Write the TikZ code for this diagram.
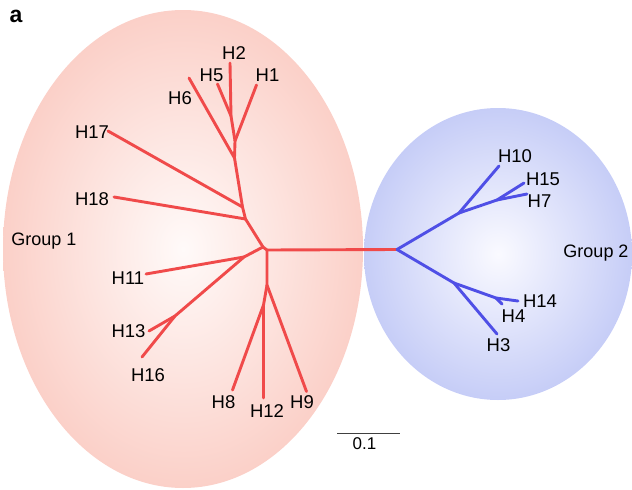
\documentclass[tikz,border=0pt]{standalone}
\usepackage{fontspec}
\setmainfont{Liberation Sans}
\begin{document}
\begin{tikzpicture}[x=1pt,y=-1pt,
  redbr/.style={draw=treered,line width=2.9pt,line join=round,line cap=round},
  bluebr/.style={draw=treeblue,line width=2.9pt,line join=round,line cap=round},
  leaf/.style={font=\fontsize{18.5}{22}\selectfont,inner sep=0pt},
  grp/.style={font=\fontsize{18}{21}\selectfont,inner sep=0pt}]
\definecolor{treered}{HTML}{F04A4A}
\definecolor{treeblue}{HTML}{4F4FE6}
\definecolor{redout}{HTML}{FBD0C8}
\definecolor{redin}{HTML}{FFFAF9}
\definecolor{blueout}{HTML}{C6CDF7}
\definecolor{bluein}{HTML}{FAFAFF}
\useasboundingbox (0,0) rectangle (632,490);

% group clouds
\shade[inner color=redin,outer color=redout] (183,249) ellipse [x radius=180,y radius=239];
\shade[inner color=bluein,outer color=blueout] (498,254) ellipse [x radius=134,y radius=146];

% panel letter
\node[font=\fontsize{23}{26}\selectfont\bfseries,inner sep=0pt] (panel) at (16,16.5) {a};

% internal points of group 1
\coordinate (a0) at (263,247);
\coordinate (a1) at (267,250);
\coordinate (t18) at (245.5,219);
\coordinate (t17) at (242.5,207);
\coordinate (t6) at (234.5,158);
\coordinate (t1) at (235,141);
\coordinate (t25) at (231,116);
\coordinate (t11) at (244,257);
\coordinate (t13) at (175,316);
\coordinate (d1) at (267,285);
\coordinate (d2) at (263.5,305);
% tips of group 1
\coordinate (h2) at (230,63);
\coordinate (h5) at (217.5,84);
\coordinate (h1) at (256.5,85);
\coordinate (h6) at (189,78);
\coordinate (h17) at (108,131);
\coordinate (h18) at (114,197);
\coordinate (h11) at (146,274);
\coordinate (h13) at (149,331);
\coordinate (h16) at (142,357);
\coordinate (h9) at (306.5,391.5);
\coordinate (h12) at (263.5,398);
\coordinate (h8) at (232.5,390);

% internal points of group 2
\coordinate (b0) at (397,249.5);
\coordinate (b1) at (459,213);
\coordinate (b2) at (497,200);
\coordinate (b3) at (454,283);
\coordinate (b4) at (496,298);
% tips of group 2
\coordinate (h10) at (499,166);
\coordinate (h15) at (524,183);
\coordinate (h7) at (527,194);
\coordinate (h3) at (497,334);
\coordinate (h14) at (518,301);
\coordinate (h4) at (502,304);

% group 1 branches
\draw[redbr] (b0) -- (a1) -- (a0) -- (t18) -- (t17) -- (t6) -- (t1) -- (t25) -- (h2);
\draw[redbr] (t25) -- (h5);
\draw[redbr] (t1) -- (h1);
\draw[redbr] (t6) -- (h6);
\draw[redbr] (t17) -- (h17);
\draw[redbr] (t18) -- (h18);
\draw[redbr] (a0) -- (t11) -- (t13) -- (h16);
\draw[redbr] (t11) -- (h11);
\draw[redbr] (t13) -- (h13);
\draw[redbr] (a1) -- (d1) -- (h9);
\draw[redbr] (d1) -- (d2) -- (h12);
\draw[redbr] (d2) -- (h8);

% group 2 branches
\draw[bluebr] (b0) -- (b1) -- (h10);
\draw[bluebr] (b1) -- (b2) -- (h15);
\draw[bluebr] (b2) -- (h7);
\draw[bluebr] (b0) -- (b3) -- (h3);
\draw[bluebr] (b3) -- (b4) -- (h14);
\draw[bluebr] (b4) -- (h4);

% leaf labels
\node[leaf] (lH2) at (234,53) {H2};
\node[leaf] (lH5) at (211.5,75) {H5};
\node[leaf] (lH1) at (267.5,75) {H1};
\node[leaf] (lH6) at (180,98.5) {H6};
\node[leaf] (lH17) at (92,132) {H17};
\node[leaf] (lH18) at (92,199) {H18};
\node[leaf] (lH11) at (128,278) {H11};
\node[leaf] (lH13) at (128.5,331) {H13};
\node[leaf] (lH16) at (148,375) {H16};
\node[leaf] (lH8) at (223.5,402) {H8};
\node[leaf] (lH12) at (267,411) {H12};
\node[leaf] (lH9) at (302,402) {H9};
\node[leaf] (lH10) at (515,156) {H10};
\node[leaf] (lH15) at (543,179.5) {H15};
\node[leaf] (lH7) at (539.5,201) {H7};
\node[leaf] (lH14) at (540,301) {H14};
\node[leaf] (lH4) at (513.5,316) {H4};
\node[leaf] (lH3) at (498.5,345) {H3};

% group names
\node[grp] (g1) at (44,241) {Group 1};
\node[grp] (g2) at (596,253) {Group 2};

% scale bar
\coordinate (sb0) at (337,433.5);
\coordinate (sb1) at (399.5,433.5);
\draw[line width=1.4pt,draw=black!75] (sb0) -- (sb1);
\node[font=\fontsize{17}{20}\selectfont,inner sep=0pt] (sbl) at (364.5,444) {0.1};
\end{tikzpicture}
\end{document}
